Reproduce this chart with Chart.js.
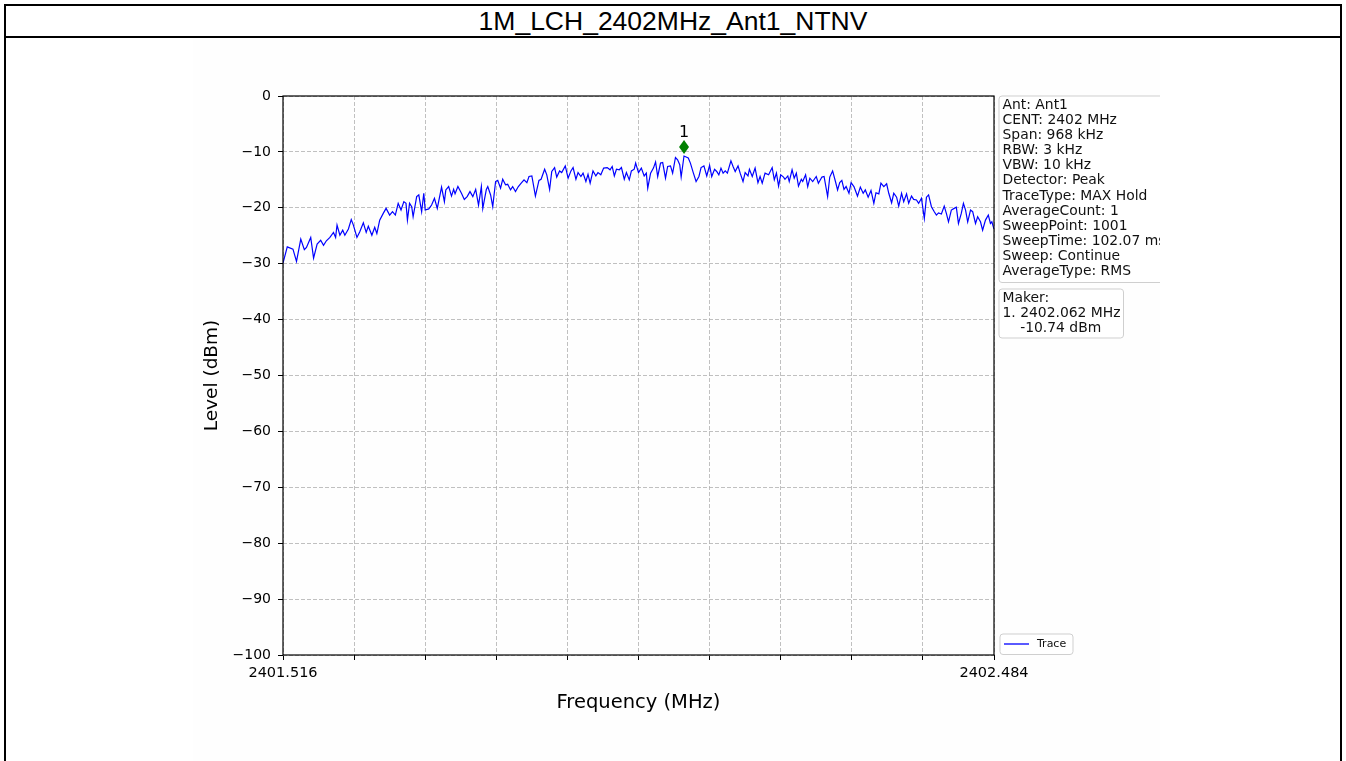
<!DOCTYPE html>
<html>
<head>
<meta charset="utf-8">
<script src="https://cdn.jsdelivr.net/npm/chart.js@4.4.1/dist/chart.umd.min.js"></script>
<style>
  html, body { margin: 0; padding: 0; background: #fff; width: 1346px; height: 761px; overflow: hidden; }
  .frame { position: absolute; left: 4px; top: 4px; width: 1334px; height: 800px; border: 2px solid #000; }
  .title { height: 30px; border-bottom: 2px solid #000; text-align: center; line-height: 32px;
           font: 26.5px 'Liberation Sans', Arial, sans-serif; color: #000; }
  .fig { position: absolute; left: 193px; top: 38px; width: 967px; height: 723px; background: #fefefe; }
</style>
</head>
<body>
<div class="frame"><div class="title">1M_LCH_2402MHz_Ant1_NTNV</div></div>
<div class="fig"><canvas id="spec" width="967" height="723"></canvas></div>

<script>
// sweep settings (from the info box)
const startMHz = 2401.516;
const spanMHz = 0.968;
const sweepPoints = 1001;

// x ticks (MHz) - only the two ends get a label
const freqTicks = [2401.516, 2401.6128, 2401.7096, 2401.8064, 2401.9032, 2402.000,
                   2402.0968, 2402.1936, 2402.2904, 2402.3872, 2402.484];
const levelTicks = [0, -10, -20, -30, -40, -50, -60, -70, -80, -90, -100];

// trace: sweep point number -> level (dBm)
const sweepIdx = [
  0, 6, 14, 19, 25, 30, 33, 39, 43, 48, 53, 57, 61, 66, 71, 74, 76, 80, 84, 87,
  92, 96, 99, 104, 108, 113, 117, 120, 125, 129, 132, 136, 141, 145, 150, 154, 158, 162, 166, 170,
  173, 175, 178, 181, 183, 188, 191, 195, 198,
  200, 205, 209, 213, 217, 223, 227, 229, 233, 237, 240, 242, 246, 251, 255, 259, 263, 267, 271, 275,
  279, 281, 286, 288, 292, 295, 299, 302, 306, 309, 313, 316, 320, 323, 327, 331, 335, 339, 343, 346,
  350, 355, 360, 363, 368, 371, 375, 378, 382, 385, 389, 392, 397,
  401, 405, 408, 412, 415, 419, 422, 426, 429, 432, 436, 440, 443, 447, 451, 456, 460, 463, 466, 469,
  473, 476, 480, 483, 487, 490, 494, 496, 500, 504, 508, 511, 513, 517, 521, 524, 527, 531, 534, 538,
  541, 545, 548, 552, 555, 558, 560, 564, 570, 573, 577, 581, 585, 588, 592, 596, 600,
  603, 607, 610, 613, 616, 619, 622, 625, 630, 633, 636, 640, 643, 647, 650, 654, 656, 660, 664, 668,
  671, 674, 678, 683, 688, 691, 694, 697, 700, 704, 706, 710, 712, 716, 719, 722, 725, 729, 731, 735,
  738, 741, 745, 750, 753, 758, 761, 766, 769, 773, 777, 780, 783, 786, 789, 792, 796, 799,
  803, 808, 812, 816, 819, 823, 827, 831, 834, 838, 841, 845, 849, 852, 856, 859, 863, 866, 870, 873,
  877, 880, 884, 887, 891, 894, 898, 902, 905, 908, 912, 916, 919, 922, 926, 930, 933, 936, 940, 944,
  947, 950, 954, 957, 960, 963, 967, 970, 974, 977, 981, 984, 988, 992, 995, 997, 1000
];
const levelDbm = [
  -29.9, -27.0, -27.4, -29.6, -25.6, -27.5, -27.1, -25.3, -29.0, -26.5, -25.8, -26.7, -25.9, -25.3, -24.4, -25.3, -23.1, -24.9, -24.0, -24.9,
  -23.8, -22.1, -23.1, -25.3, -24.3, -22.7, -24.4, -23.3, -24.9, -23.5, -24.6, -22.2, -21.0, -20.1, -21.3, -20.7, -21.3, -19.2, -20.4, -18.9,
  -19.2, -22.2, -19.2, -19.8, -21.6, -18.0, -17.7, -20.7, -17.4,
  -20.4, -20.2, -19.5, -18.3, -20.1, -16.3, -18.9, -16.8, -16.2, -17.9, -16.7, -17.5, -16.2, -17.4, -18.5, -18.0, -17.1, -18.0, -16.7, -19.5,
  -16.2, -20.1, -16.7, -16.2, -17.7, -19.8, -15.3, -15.1, -16.5, -14.9, -15.9, -15.8, -16.8, -16.2, -17.1, -16.2, -15.6, -15.0, -15.5, -14.4,
  -14.3, -17.9, -15.1, -14.9, -13.1, -14.1, -16.7, -13.5, -12.8, -14.5, -13.4, -13.7, -12.5,
  -14.7, -13.4, -12.8, -14.9, -13.7, -14.4, -13.8, -15.3, -14.0, -15.6, -13.4, -14.3, -13.7, -14.1, -12.9, -12.8, -13.2, -12.6, -14.3, -13.1,
  -13.2, -12.8, -14.9, -13.7, -15.0, -13.4, -13.1, -12.0, -13.7, -12.9, -14.3, -13.8, -16.5, -13.8, -12.9, -11.8, -14.4, -12.0, -11.9, -14.7,
  -12.6, -12.5, -13.8, -11.0, -11.4, -12.3, -14.5, -10.74, -11.1, -12.0, -13.7, -15.3, -14.4, -12.8, -12.5, -14.3, -12.4,
  -14.4, -13.1, -13.5, -14.1, -12.9, -13.8, -13.4, -13.8, -11.6, -12.6, -13.5, -12.5, -13.8, -15.3, -13.7, -14.3, -13.1, -14.4, -12.9, -15.5,
  -14.4, -15.6, -13.8, -14.1, -12.8, -15.0, -13.8, -16.1, -14.1, -14.5, -14.9, -14.3, -15.3, -13.2, -14.7, -13.8, -16.1, -14.9, -15.3, -14.1,
  -16.2, -14.7, -15.3, -14.4, -15.6, -14.5, -14.4, -18.0, -14.5, -13.4, -15.3, -16.8, -15.5, -15.1, -16.7, -16.2, -17.4, -15.5,
  -16.2, -17.9, -16.3, -17.4, -16.8, -18.1, -16.9, -19.2, -17.3, -17.5, -15.6, -16.2, -15.7, -17.4, -19.1, -17.4, -18.1, -19.7, -17.4, -18.9,
  -17.5, -19.2, -17.9, -18.5, -18.6, -19.2, -18.3, -21.9, -18.1, -17.7, -19.8, -20.7, -21.3, -20.9, -21.1, -19.7, -21.0, -22.5, -20.4, -20.1,
  -19.9, -22.8, -21.0, -19.2, -20.4, -22.5, -20.4, -20.7, -22.8, -21.6, -22.5, -24.0, -22.2, -21.3, -22.8, -22.5, -23.8
];
if (sweepIdx.length !== levelDbm.length) console.warn('trace arrays differ', sweepIdx.length, levelDbm.length);

// peak marker
const markerFreq = [2402.062];
const markerLevel = [-10.74];

const infoLines = ['Ant: Ant1', 'CENT: 2402 MHz', 'Span: 968 kHz', 'RBW: 3 kHz', 'VBW: 10 kHz',
  'Detector: Peak', 'TraceType: MAX Hold', 'AverageCount: 1', 'SweepPoint: 1001',
  'SweepTime: 102.07 ms', 'Sweep: Continue', 'AverageType: RMS'];
const makerLines = ['Maker:', '1. 2402.062 MHz', '    -10.74 dBm'];

const FONT = "'DejaVu Sans', Verdana, sans-serif";
const tracePts = sweepIdx.map((n, i) => ({ x: startMHz + n * spanMHz / (sweepPoints - 1), y: levelDbm[i] }));

function roundRect(ctx, x, y, w, h, r) {
  ctx.beginPath();
  ctx.moveTo(x + r, y);
  ctx.lineTo(x + w - r, y); ctx.quadraticCurveTo(x + w, y, x + w, y + r);
  ctx.lineTo(x + w, y + h - r); ctx.quadraticCurveTo(x + w, y + h, x + w - r, y + h);
  ctx.lineTo(x + r, y + h); ctx.quadraticCurveTo(x, y + h, x, y + h - r);
  ctx.lineTo(x, y + r); ctx.quadraticCurveTo(x, y, x + r, y);
  ctx.closePath();
}

const extras = {
  id: 'extras',
  afterDatasetsDraw(chart) {
    const { ctx, chartArea: a, scales } = chart;
    ctx.save();
    // spines
    ctx.strokeStyle = '#000';
    ctx.lineWidth = 1.2;
    ctx.strokeRect(a.left, a.top, a.right - a.left, a.bottom - a.top);
    // marker diamond + number
    markerFreq.forEach((f, i) => {
      const px = scales.x.getPixelForValue(f);
      const py = scales.y.getPixelForValue(markerLevel[i]) - 9;
      ctx.fillStyle = '#008000';
      ctx.beginPath();
      ctx.moveTo(px, py - 7); ctx.lineTo(px + 5, py); ctx.lineTo(px, py + 7); ctx.lineTo(px - 5, py);
      ctx.closePath(); ctx.fill();
      ctx.fillStyle = '#000';
      ctx.font = '16px ' + FONT;
      ctx.textAlign = 'center'; ctx.textBaseline = 'middle';
      ctx.fillText(String(i + 1), px, py - 14);
    });
    ctx.restore();
  },
  afterDraw(chart) {
    const { ctx, chartArea: a } = chart;
    ctx.save();
    ctx.lineWidth = 1;
    ctx.strokeStyle = '#cfcfcf';
    // settings box (runs off the right edge of the figure)
    ctx.fillStyle = 'rgba(255,255,255,0.85)';
    roundRect(ctx, a.right + 5, a.top, 200, 186.5, 3);
    ctx.fill(); ctx.stroke();
    ctx.fillStyle = '#111';
    ctx.font = '13.9px ' + FONT;
    ctx.textAlign = 'left'; ctx.textBaseline = 'middle';
    infoLines.forEach((t, i) => ctx.fillText(t, a.right + 8.5, a.top + 9 + i * 15.15));
    // marker readout box
    ctx.fillStyle = 'rgba(255,255,255,0.85)';
    roundRect(ctx, a.right + 5, a.top + 193, 124.5, 49, 3);
    ctx.fill(); ctx.stroke();
    ctx.fillStyle = '#111';
    makerLines.forEach((t, i) => ctx.fillText(t, a.right + 8.5, a.top + 202 + i * 15.2));
    // legend
    ctx.fillStyle = 'rgba(255,255,255,0.85)';
    roundRect(ctx, a.right + 6, a.bottom - 21, 73, 20.5, 3);
    ctx.fill(); ctx.stroke();
    ctx.strokeStyle = '#0000ff';
    ctx.lineWidth = 1.3;
    ctx.beginPath(); ctx.moveTo(a.right + 10, a.bottom - 11); ctx.lineTo(a.right + 35, a.bottom - 11); ctx.stroke();
    ctx.fillStyle = '#111';
    ctx.font = '11px ' + FONT;
    ctx.fillText('Trace', a.right + 43, a.bottom - 10.5);
    ctx.restore();
  }
};

new Chart(document.getElementById('spec').getContext('2d'), {
  type: 'line',
  data: {
    datasets: [{
      label: 'Trace',
      data: tracePts,
      borderColor: '#0000ff',
      borderWidth: 1.2,
      pointRadius: 0,
      tension: 0,
      fill: false
    }]
  },
  options: {
    responsive: false,
    animation: false,
    layout: { padding: { top: 58, right: 166, left: 0, bottom: 0 } },
    plugins: { legend: { display: false }, tooltip: { enabled: false } },
    scales: {
      x: {
        type: 'linear',
        min: startMHz,
        max: startMHz + spanMHz,
        afterBuildTicks: s => { s.ticks = freqTicks.map(v => ({ value: v })); },
        afterFit: s => { s.height = 106; },
        border: { display: false, dash: [4, 2] },
        grid: { color: '#b0b0b0', lineWidth: 0.8, tickLength: 5, tickColor: '#000', tickWidth: 1 },
        ticks: {
          autoSkip: false, maxRotation: 0, padding: 5, color: '#000',
          font: { family: FONT, size: 14.5 },
          callback: (v, i) => (i === 0 || i === freqTicks.length - 1) ? Number(v).toFixed(3) : ''
        },
        title: { display: true, text: 'Frequency (MHz)', color: '#000',
                 font: { family: FONT, size: 19.5 }, padding: { top: 0, bottom: 46 } }
      },
      y: {
        min: -100,
        max: 0,
        afterBuildTicks: s => { s.ticks = levelTicks.map(v => ({ value: v })); },
        afterFit: s => { s.width = 90; },
        border: { display: false, dash: [4, 2] },
        grid: { color: '#b0b0b0', lineWidth: 0.8, tickLength: 5, tickColor: '#000', tickWidth: 1 },
        ticks: {
          padding: 7, color: '#000',
          font: { family: FONT, size: 14 },
          callback: v => String(v).replace('-', '\u2212')
        },
        title: { display: true, text: 'Level (dBm)', color: '#000',
                 font: { family: FONT, size: 18.5 }, padding: { top: 8, bottom: 0 } }
      }
    }
  },
  plugins: [extras]
});
</script>
</body>
</html>
